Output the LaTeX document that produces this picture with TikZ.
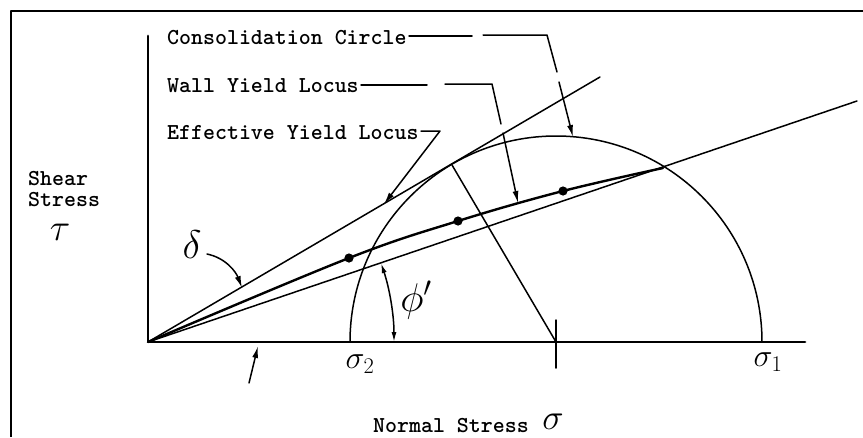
\RequirePackage{fix-cm}
\documentclass[tikz,border=0pt]{standalone}
\usetikzlibrary{arrows.meta}
\begin{document}
\begin{tikzpicture}[x=1pt,y=-1pt,line cap=round,line join=round,
  ln/.style={line width=1.5pt},
  axisln/.style={line width=2.8pt},
  locus/.style={line width=2.4pt},
  tip/.style={-{Latex[length=12pt,width=6pt]}},
  dbltip/.style={{Latex[length=10pt,width=5pt]}-{Latex[length=10pt,width=5pt]}},
  lbl/.style={font=\fontsize{22.8}{26}\selectfont\ttfamily\bfseries,inner sep=0pt,anchor=base west},
  sym/.style={inner sep=0pt}]
\useasboundingbox (0,0) rectangle (863,437);
% frame
\draw[line width=2.4pt,line cap=butt] (11,437) -- (11,11) -- (863,11);
% axes
\coordinate (O) at (148,342);
\coordinate (Ytop) at (148,36);
\coordinate (Xend) at (805,342);
\draw[axisln] (Ytop) -- (O) -- (Xend);
% consolidation circle
\coordinate (S2) at (350,342);
\coordinate (C) at (556,342);
\coordinate (T) at (452,165);
\draw[ln] (S2) arc[start angle=180,end angle=360,radius=206];
\draw[ln] (T) -- (C);
\draw[ln] (556,320) -- (556,368);
% lines from origin
\coordinate (Uend) at (600,77);
\coordinate (Lend) at (857,101);
\draw[ln] (O) -- (Uend);
\draw[ln] (O) -- (Lend);
% wall yield locus (curved, thick)
\coordinate (D1) at (349,258);
\coordinate (D2) at (458,221);
\coordinate (D3) at (563,191);
\coordinate (E) at (663,168);
\draw[locus] plot[smooth,tension=0.6] coordinates {(O) (D1) (D2) (D3) (E)};
\foreach \p in {D1,D2,D3} \fill (\p) circle[radius=4.6];
% labels
\node[lbl] (cc) at (167,44) {Consolidation Circle};
\node[lbl] (wy) at (167,92) {Wall Yield Locus};
\node[lbl] (ey) at (167,139) {Effective Yield Locus};
\node[lbl] (sh) at (28,185) {Shear};
\node[lbl] (st) at (28,206) {Stress};
\node[sym,font=\fontsize{38}{38}\selectfont] (tau) at (60,232) {$\tau$};
\node[lbl] (ns) at (373,432) {Normal Stress};
\node[sym,font=\fontsize{36}{36}\selectfont] (sig) at (553,422) {$\sigma$};
\node[sym,font=\fontsize{32}{32}\selectfont] (s2) at (360,364) {$\sigma_2$};
\node[sym,font=\fontsize{32}{32}\selectfont] (s1) at (768,362) {$\sigma_1$};
\node[sym,font=\fontsize{40}{40}\selectfont] (del) at (192,245) {$\delta$};
\node[sym,font=\fontsize{40}{40}\selectfont] (phi) at (416,300) {$\phi'$};
% leaders
\draw[ln] (409,36) -- (472,36);
\draw[ln] (483,35) -- (547,35) -- (557,72);
\draw[ln,tip] (559,82) -- (573,137);
\draw[ln] (361,85) -- (427,85);
\draw[ln] (445,84) -- (492,84) -- (501,124);
\draw[ln,tip] (503,133) -- (518,203);
\draw[ln,tip] (421,131) -- (440,131) -- (384,204);
% delta arrow
\draw[ln,tip] (207,254) .. controls (226,258) and (236,272) .. (242,288);
% phi' arc
\draw[ln,dbltip] ([shift={(-18.7:246)}]O) arc[start angle=-18.7,end angle=0,radius=246];
% bottom arrow
\draw[ln,tip] (249,383) -- (258,346);
\end{tikzpicture}
\end{document}
